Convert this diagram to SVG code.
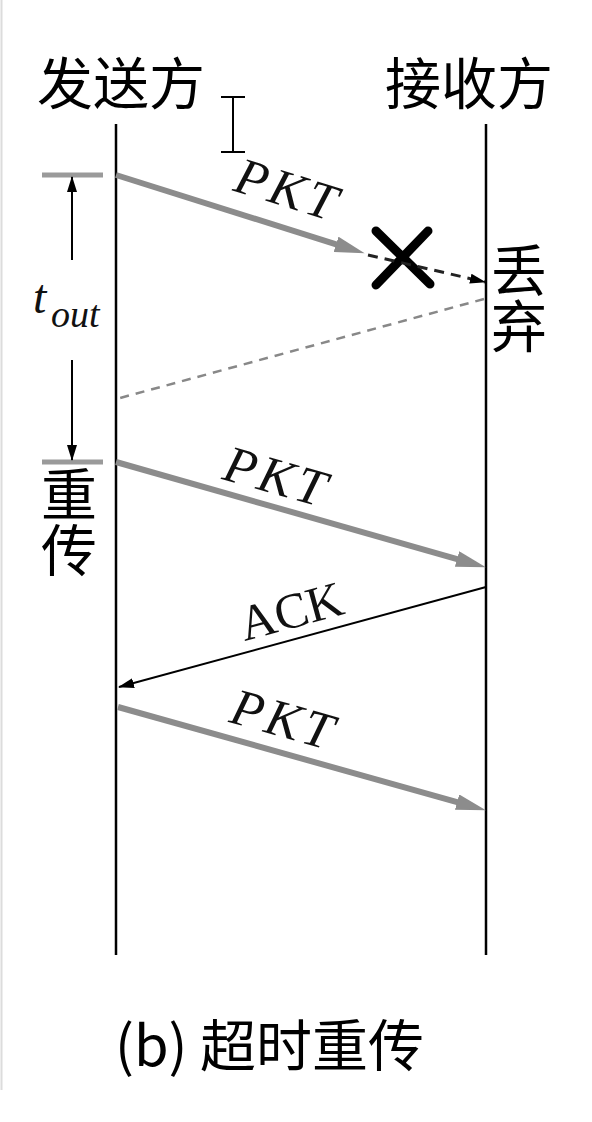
<svg xmlns="http://www.w3.org/2000/svg" width="592" height="1122" viewBox="0 0 592 1122">
<style>
.cjk{font-family:"Noto Sans CJK SC","Noto Sans",sans-serif;font-size:56px;fill:#000}
.vert{writing-mode:vertical-rl;text-orientation:upright}
.lbl{font-family:"Liberation Serif","Times New Roman",serif;fill:#111}
.life{stroke:#000;stroke-width:2.5;fill:none}
.pkt{stroke:#8c8c8c;stroke-width:6;fill:none}
.bar{stroke:#9a9a9a;stroke-width:5;fill:none}
.thin{stroke:#000;stroke-width:2;fill:none}
</style>
<defs>
<marker id="gh" markerUnits="userSpaceOnUse" viewBox="0 0 30 16" markerWidth="30" markerHeight="16" refX="1" refY="8" orient="auto">
<path d="M0,0 L30,8 L0,16 z" fill="#8c8c8c"/>
</marker>
<marker id="bh" markerUnits="userSpaceOnUse" viewBox="0 0 16 10" markerWidth="16" markerHeight="10" refX="15" refY="5" orient="auto">
<path d="M0,0 L16,5 L0,10 z" fill="#000"/>
</marker>
</defs>
<rect width="592" height="1122" fill="#fff"/>
<line x1="1.5" y1="0" x2="1.5" y2="1090" stroke="#dcdcdc" stroke-width="2"/>

<g id="sender">
<text class="cjk" x="37" y="104">发送方</text>
<line class="life" x1="116" y1="124" x2="116" y2="955"/>
</g>
<g id="receiver">
<text class="cjk" x="385" y="104">接收方</text>
<line class="life" x1="486" y1="124" x2="486" y2="955"/>
</g>

<g id="cursor">
<path d="M221,97 H245 M233,97 V152 M221,152 H245" stroke="#000" stroke-width="2" fill="none"/>
</g>

<g id="timeout">
<line class="bar" x1="42" y1="175" x2="103" y2="175"/>
<line class="bar" x1="42" y1="462" x2="103" y2="462"/>
<line class="thin" x1="72" y1="260" x2="72" y2="177" marker-end="url(#bh)"/>
<line class="thin" x1="72" y1="360" x2="72" y2="460" marker-end="url(#bh)"/>
<text class="lbl" x="33" y="313" font-size="48" font-style="italic">t</text>
<text class="lbl" x="51" y="327" font-size="38" font-style="italic">out</text>
</g>

<g id="lost">
<path d="M376,231 L430,284 M428,231 L376,285" stroke="#000" stroke-width="9" stroke-linecap="round" fill="none"/>
<text class="cjk vert" x="519" y="242">丢弃</text>
</g>

<g id="retransmit">
<text class="cjk vert" x="69" y="466">重传</text>
</g>

<g id="connectors">
<line class="pkt" x1="116" y1="175" x2="337" y2="244.6" marker-end="url(#gh)"/>
<line x1="368" y1="255" x2="485" y2="282" stroke="#222" stroke-width="3" stroke-dasharray="10 7" marker-end="url(#bh)"/>
<line x1="484" y1="299" x2="120" y2="398" stroke="#888" stroke-width="2.5" stroke-dasharray="9 7"/>
<line class="pkt" x1="116" y1="462" x2="458" y2="559.3" marker-end="url(#gh)"/>
<line class="thin" x1="486" y1="587" x2="119" y2="687" marker-end="url(#bh)"/>
<line class="pkt" x1="118" y1="707" x2="458" y2="802.4" marker-end="url(#gh)"/>
</g>

<g id="labels">
<text class="lbl" font-size="52" font-style="italic" letter-spacing="4" text-anchor="middle" transform="translate(288,190) rotate(17.4)" y="17">PKT</text>
<text class="lbl" font-size="52" font-style="italic" letter-spacing="4" text-anchor="middle" transform="translate(277,477) rotate(15.9)" y="17">PKT</text>
<text class="lbl" font-size="50" text-anchor="middle" transform="translate(291,611) rotate(-15.3)" y="17">ACK</text>
<text class="lbl" font-size="52" font-style="italic" letter-spacing="4" text-anchor="middle" transform="translate(284,720) rotate(15.7)" y="17">PKT</text>
</g>

<g id="caption">
<text class="cjk" x="115" y="1066">(b) 超时重传</text>
</g>
</svg>
